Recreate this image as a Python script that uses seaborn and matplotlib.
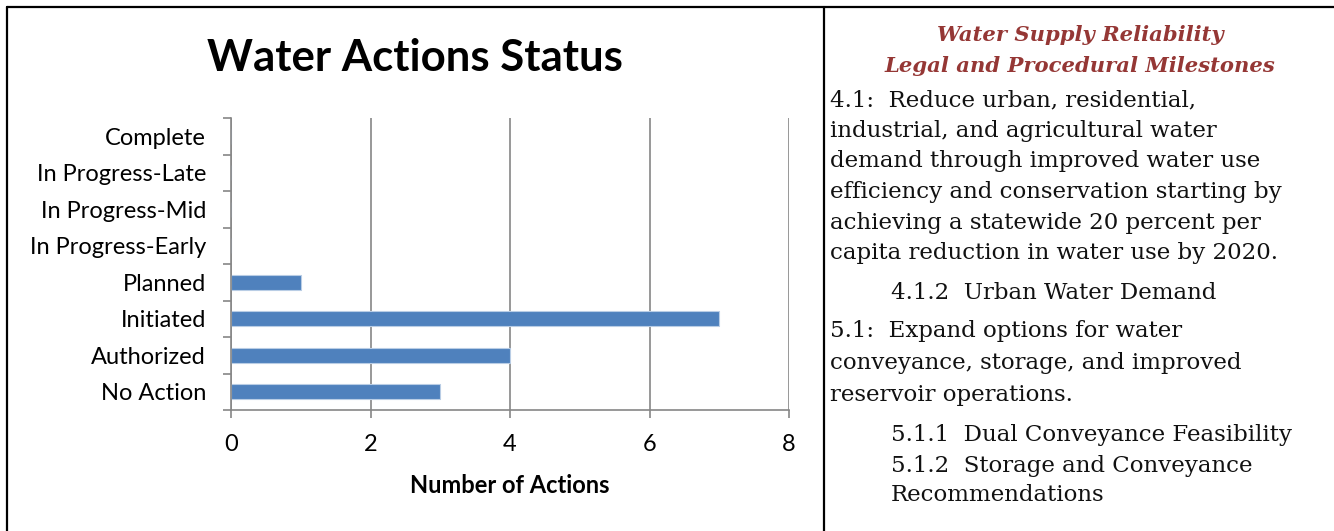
import matplotlib
matplotlib.use("Agg")
import matplotlib.pyplot as plt
import matplotlib.lines as mlines
from matplotlib.ticker import FixedLocator
import pandas as pd
import seaborn as sns

# chart data
statuses = ["Complete", "In Progress-Late", "In Progress-Mid", "In Progress-Early",
            "Planned", "Initiated", "Authorized", "No Action"]
counts = [0, 0, 0, 0, 1, 7, 4, 3]
x_ticks = [0, 2, 4, 6, 8]

chart_title = "Water Actions Status"
x_label = "Number of Actions"

# side panel text
panel_heading = ["Water Supply Reliability", "Legal and Procedural Milestones"]
goal_41 = ["4.1:  Reduce urban, residential,",
           "industrial, and agricultural water",
           "demand through improved water use",
           "efficiency and conservation starting by",
           "achieving a statewide 20 percent per",
           "capita reduction in water use by 2020."]
sub_41 = ["4.1.2  Urban Water Demand"]
goal_51 = ["5.1:  Expand options for water",
           "conveyance, storage, and improved",
           "reservoir operations."]
sub_51 = ["5.1.1  Dual Conveyance Feasibility",
          "5.1.2  Storage and Conveyance",
          "Recommendations"]

W, H = 1334, 531
BAR = "#4F81BD"
GRID = "#868686"
RED = "#953735"

df = pd.DataFrame({"status": statuses, "count": counts})

sns.set_theme(style="white")
plt.rcParams["font.family"] = ["Lato", "DejaVu Sans"]
plt.rcParams["text.color"] = "black"
plt.rcParams["xtick.color"] = "black"
plt.rcParams["ytick.color"] = "black"
plt.rcParams["axes.labelcolor"] = "black"

fig = plt.figure(figsize=(W / 100, H / 100), dpi=100)
fig.patch.set_facecolor("white")

def fx(px):
    return px / W

def fy(py):
    return 1 - py / H

ax = fig.add_axes([fx(231), fy(410), fx(789) - fx(231), fy(118) - fy(410)])
sns.barplot(data=df, y="status", x="count", order=statuses, orient="h",
            color=BAR, width=0.4, edgecolor="#B9CDE5", linewidth=0.8,
            saturation=1, ax=ax)

ax.set_xlim(0, 8)
ax.set_ylim(len(statuses) - 0.5, -0.5)
ax.xaxis.set_major_locator(FixedLocator(x_ticks))
ax.grid(axis="x", color=GRID, linewidth=1.2)
ax.set_axisbelow(True)
for s in ["top", "right"]:
    ax.spines[s].set_visible(False)
for s in ["left", "bottom"]:
    ax.spines[s].set_color(GRID)
    ax.spines[s].set_linewidth(1.2)

# category boundary ticks on the y axis, labels at centres
ax.yaxis.set_minor_locator(FixedLocator([i - 0.5 for i in range(len(statuses) + 1)]))
ax.tick_params(axis="y", which="major", length=0, pad=18, labelsize=17)
ax.tick_params(axis="y", which="minor", length=6, width=1.2, color=GRID, left=True)
ax.tick_params(axis="x", which="major", length=6, width=1.2, color=GRID,
               labelcolor="black", bottom=True, labelsize=17, pad=11)
ax.set_ylabel("")
ax.set_xlabel(x_label, fontsize=17, fontweight="bold", labelpad=14)

fig.text(fx(415), fy(58), chart_title, fontsize=31.5, fontweight="bold",
         ha="center", va="center")

# side panel
serif = ["DejaVu Serif"]
for txt, y in zip(panel_heading, [35, 66]):
    fig.text(fx(1080), fy(y), txt, color=RED, fontsize=15.2, fontweight="bold",
             style="italic", family=serif, ha="center", va="center")

blocks = [(goal_41, 830, [100, 131, 161, 192, 223, 253]),
          (sub_41, 891, [293]),
          (goal_51, 830, [331, 363, 395]),
          (sub_51, 891, [435, 466, 495])]
for lines, x0, ys in blocks:
    for txt, y in zip(lines, ys):
        fig.text(fx(x0), fy(y), txt, fontsize=16.5, family=serif,
                 ha="left", va="center", color="#111111")

# table borders
def line(x0, y0, x1, y1):
    fig.add_artist(mlines.Line2D([fx(x0), fx(x1)], [fy(y0), fy(y1)],
                                 color="black", linewidth=1.6,
                                 transform=fig.transFigure))

line(7, 7, W, 7)
line(7, 7, 7, H)
line(824, 7, 824, H)

fig.savefig("out.png", dpi=100, facecolor="white")
